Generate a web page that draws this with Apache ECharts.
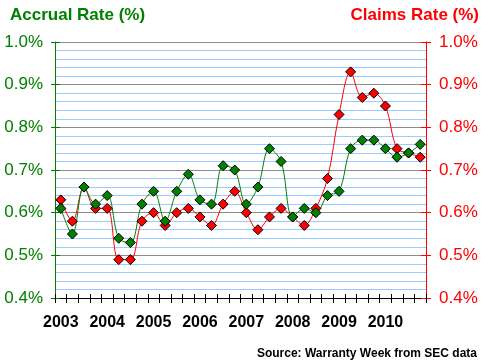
<!DOCTYPE html>
<html>
<head>
<meta charset="utf-8">
<script src="https://cdn.jsdelivr.net/npm/echarts@6/dist/echarts.min.js"></script>
<style>
html,body{margin:0;padding:0;background:#fff;}
#chart{width:488px;height:362px;}
</style>
</head>
<body>
<div id="chart"></div>
<script>
const quarters = [
  'Q1 2003','Q2 2003','Q3 2003','Q4 2003',
  'Q1 2004','Q2 2004','Q3 2004','Q4 2004',
  'Q1 2005','Q2 2005','Q3 2005','Q4 2005',
  'Q1 2006','Q2 2006','Q3 2006','Q4 2006',
  'Q1 2007','Q2 2007','Q3 2007','Q4 2007',
  'Q1 2008','Q2 2008','Q3 2008','Q4 2008',
  'Q1 2009','Q2 2009','Q3 2009','Q4 2009',
  'Q1 2010','Q2 2010','Q3 2010','Q4 2010'
];
const accrualRate = [0.61,0.55,0.66,0.62,0.64,0.54,0.53,0.62,0.65,0.58,0.65,0.69,0.63,0.62,0.71,0.70,
                     0.62,0.66,0.75,0.72,0.59,0.61,0.60,0.64,0.65,0.75,0.77,0.77,0.75,0.73,0.74,0.76];
const claimsRate  = [0.63,0.58,0.66,0.61,0.61,0.49,0.49,0.58,0.60,0.57,0.60,0.61,0.59,0.57,0.62,0.65,
                     0.60,0.56,0.59,0.61,0.59,0.57,0.61,0.68,0.83,0.93,0.87,0.88,0.85,0.75,0.74,0.73];
const yMin = 0.4, yMax = 1.0, yStep = 0.1;

const FONT = '"Liberation Sans", Arial, sans-serif';
const GREEN = '#008000', RED = '#ff0000';
const pct = v => v.toFixed(1) + '%';

const chart = echarts.init(document.getElementById('chart'), null, {renderer: 'canvas'});
const baseY = {type: 'value', min: yMin, max: yMax, interval: yStep};
chart.setOption({
  animation: false,
  backgroundColor: '#fff',
  title: [
    {text: 'Accrual Rate (%)', left: 5, top: 2, textStyle: {color: GREEN, fontFamily: FONT, fontSize: 17, fontWeight: 'bold'}},
    {text: 'Claims Rate (%)', right: 4, top: 2, textStyle: {color: RED, fontFamily: FONT, fontSize: 17, fontWeight: 'bold'}},
    {text: 'Source: Warranty Week from SEC data', right: 6, top: 343, textStyle: {color: '#000', fontFamily: FONT, fontSize: 12, fontWeight: 'bold'}}
  ],
  grid: {left: 55, right: 62, top: 42, bottom: 64, containLabel: false},
  xAxis: [
    {
      type: 'category', data: quarters, boundaryGap: true, position: 'bottom',
      axisLine: {lineStyle: {color: '#000', width: 1}},
      axisTick: {show: true, interval: 0, length: 5, lineStyle: {color: '#000'}},
      axisLabel: {interval: 3, margin: 17, color: '#000', fontFamily: FONT, fontSize: 16, fontWeight: 'bold',
                  formatter: v => v.slice(3)},
      splitLine: {show: false}
    },
    {
      type: 'category', data: quarters, boundaryGap: true, position: 'bottom',
      axisLine: {show: false},
      axisTick: {show: true, inside: true, interval: 0, length: 4, lineStyle: {color: '#000'}},
      axisLabel: {show: false}, splitLine: {show: false}
    }
  ],
  yAxis: [
    Object.assign({}, baseY, {
      position: 'left',
      axisLine: {show: true, lineStyle: {color: GREEN, width: 1}},
      axisTick: {show: true, length: 4, lineStyle: {color: GREEN}},
      axisLabel: {color: GREEN, fontFamily: FONT, fontSize: 17, margin: 12, formatter: pct},
      splitLine: {show: true, lineStyle: {color: '#8c8c8c', width: 1}},
      minorTick: {show: false, splitNumber: 5},
      minorSplitLine: {show: true, lineStyle: {color: '#99ccff', width: 1}}
    }),
    Object.assign({}, baseY, {
      position: 'right',
      axisLine: {show: true, lineStyle: {color: RED, width: 1}},
      axisTick: {show: true, length: 5, lineStyle: {color: RED}},
      axisLabel: {color: RED, fontFamily: FONT, fontSize: 17, margin: 13, formatter: pct},
      splitLine: {show: false}
    }),
    Object.assign({}, baseY, {
      position: 'left',
      axisLine: {show: false},
      axisTick: {show: true, inside: true, length: 5, lineStyle: {color: GREEN}},
      axisLabel: {show: false}, splitLine: {show: false}
    }),
    Object.assign({}, baseY, {
      position: 'right',
      axisLine: {show: false},
      axisTick: {show: true, inside: true, length: 5, lineStyle: {color: RED}},
      axisLabel: {show: false}, splitLine: {show: false}
    })
  ],
  series: [
    {
      name: 'Claims Rate', type: 'line', xAxisIndex: 0, yAxisIndex: 1, data: claimsRate,
      smooth: 0.35, symbol: 'diamond', symbolSize: 10, showSymbol: true, showAllSymbol: true,
      lineStyle: {color: RED, width: 1},
      itemStyle: {color: RED, borderColor: '#000', borderWidth: 1}
    },
    {
      name: 'Accrual Rate', type: 'line', xAxisIndex: 0, yAxisIndex: 0, data: accrualRate,
      smooth: 0.35, symbol: 'diamond', symbolSize: 10, showSymbol: true, showAllSymbol: true,
      lineStyle: {color: GREEN, width: 1},
      itemStyle: {color: GREEN, borderColor: '#000', borderWidth: 1}
    }
  ]
});
</script>
</body>
</html>
